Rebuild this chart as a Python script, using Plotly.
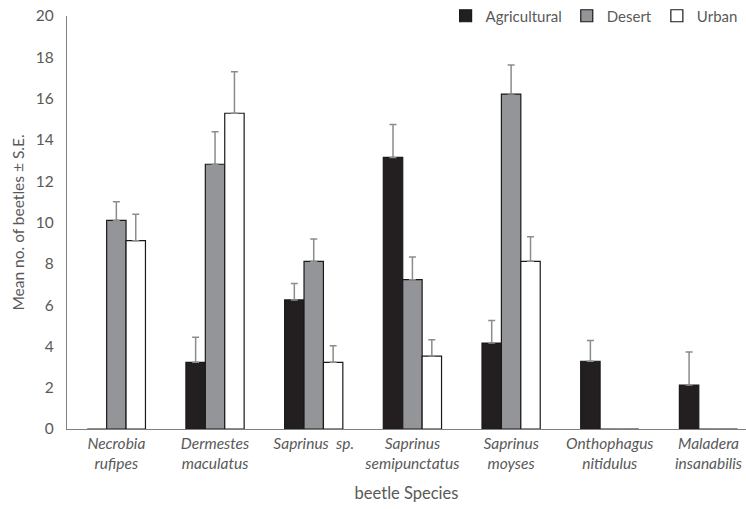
import plotly.graph_objects as go

species = ["Necrobia<br>rufipes", "Dermestes<br>maculatus", "Saprinus  sp.<br> ",
           "Saprinus<br>semipunctatus", "Saprinus<br>moyses", "Onthophagus<br>nitidulus",
           "Maladera<br>insanabilis"]
agri = [0, 3.23, 6.25, 13.15, 4.16, 3.28, 2.13]
agri_se = [None, 1.21, 0.79, 1.6, 1.09, 1.0, 1.6]
desert = [10.1, 12.82, 8.12, 7.23, 16.22, 0, 0]
desert_se = [0.9, 1.58, 1.08, 1.1, 1.41, None, None]
urban = [9.12, 15.29, 3.23, 3.53, 8.12, 0, 0]
urban_se = [1.28, 2.01, 0.8, 0.79, 1.19, None, None]

x = list(range(len(species)))
err_col = "#8c8c8c"
txt = "#595959"

def trace(name, y, se, color):
    return go.Bar(
        name=name, x=x, y=y,
        marker=dict(color=color, line=dict(color="#1a1a1a", width=1.2)),
        error_y=dict(type="data", symmetric=False, array=se,
                     arrayminus=[0] * len(se), color=err_col, thickness=1.5, width=3.5),
    )

fig = go.Figure([
    trace("Agricultural", agri, agri_se, "#231f20"),
    trace("Desert", desert, desert_se, "#939598"),
    trace("Urban", urban, urban_se, "#ffffff"),
])

fig.update_layout(
    width=746, height=509,
    margin=dict(l=67, r=0, t=16, b=80, autoexpand=False),
    paper_bgcolor="white", plot_bgcolor="white",
    barmode="group", bargap=0.41, bargroupgap=0,
    font=dict(family="Lato, Carlito, sans-serif", color=txt, size=15),
    legend=dict(orientation="h", x=0.995, xanchor="right", y=1.0, yanchor="middle",
                font=dict(size=15, color=txt), itemwidth=30, traceorder="normal",
                bgcolor="rgba(0,0,0,0)"),
    showlegend=True,
)
fig.update_xaxes(
    range=[-0.5, 6.38], tickvals=x, ticktext=species,
    tickfont=dict(size=15.5, color=txt, style="italic"),
    showline=True, linecolor="#7f7f7f", linewidth=1.2, ticks="", showgrid=False,
    title=dict(text="beetle Species", font=dict(size=16.5, color=txt), standoff=16),
)
fig.update_yaxes(
    range=[0, 20], dtick=2, tickfont=dict(size=15.5, color=txt),
    ticklabelstandoff=9,
    showline=True, linecolor="#7f7f7f", linewidth=1.2, ticks="", showgrid=False,
    zeroline=False,
    title=dict(text="Mean no. of beetles ± S.E.", font=dict(size=15.5, color=txt), standoff=7),
)

# remove the browser's default 8px body margin so the figure fills the window
fig.write_html("out.html", config={"displayModeBar": False},
               post_script="document.body.style.margin='0';document.body.style.overflow='hidden';")
